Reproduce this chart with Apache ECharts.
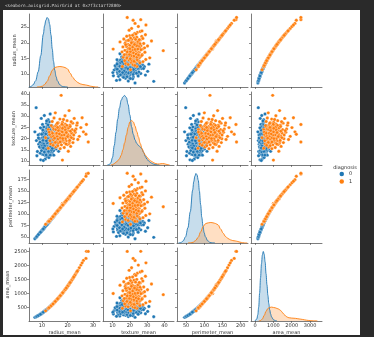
<!DOCTYPE html>
<html><head><meta charset="utf-8">
<script src="https://cdn.jsdelivr.net/npm/echarts/dist/echarts.min.js"></script>
<style>
html,body{margin:0;padding:0;background:#2a2a2a;}
#fig{position:absolute;left:3px;top:10px;width:357px;height:325px;background:#fff;}
#c{position:absolute;left:0;top:0;width:374px;height:337px;}
</style>
</head><body><div id="fig"></div><div id="c"></div><script>
const varNames = ['radius_mean','texture_mean','perimeter_mean','area_mean'];
const hueNames = ['0','1'];
const titleText = '<seaborn.axisgrid.PairGrid at 0x7f3c1a7f2800>';
const legendTitle = 'diagnosis';

// diagnosis 0 (benign)
const radius0 = [12.1,11.4,13.2,10.8,12.7,11.9,13.8,9.8,12.4,11.1,
14.2,10.3,12.9,11.6,13.5,12.2,8.7,14.6,11.3,13.0,
10.6,12.6,15.1,11.8,9.4,13.7,12.3,10.9,14.0,11.5,
12.8,7.8,13.3,10.1,12.0,15.5,11.2,13.9,9.1,12.5,
14.4,10.4,11.7,13.1,8.2,12.9,16.2,11.0,13.6,10.7,
12.2,14.8,9.9,11.9,13.4,12.6,10.2,14.1,11.4,15.8,
12.0,7.2,13.0,10.5,12.4,11.6,14.5,9.6,13.2,12.8,
16.8,11.1,13.6,10.0,12.3,15.2,11.3,8.9,13.9,12.1,
10.8,14.3,11.8,9.3,13.5,12.7,11.0,17.3,10.3,12.5,
14.7,11.5,13.1,8.5,12.0,15.6,10.6,13.7,11.7,12.9,
9.7,14.9,11.2,13.3,10.9,12.6,16.0,11.4,7.7,13.8,
12.2,10.4,14.0,11.9,9.0,13.4,12.3,15.0,10.1,11.6,
13.0,12.7,14.2,10.7,11.3,13.6,12.4,9.5,14.6,11.8,
12.8,10.0,13.2,16.5,11.0,12.1,14.4,8.0,10.5,13.1,
11.5,12.9,10.2,13.4,11.8,12.4,9.8,14.1,11.0,12.6,
13.1,10.6,12.0,14.8,11.3,12.3,9.2,13.7,11.7,12.8,
10.4,13.3,11.9,12.5,15.3,10.9,12.1,13.9,11.4,8.6,
12.7,11.1,14.0,10.7,12.2,13.5,9.9,11.6,12.9,14.5,
11.2,12.5,10.3,13.0,11.8,12.4,15.9,10.8,13.2,11.5,
12.1,9.4,13.6,11.0,12.6,14.3,10.5,12.0,13.8,11.7];
const texture0 = [17.2,15.6,19.8,16.4,21.3,14.1,18.5,20.2,13.2,18.9,
16.7,14.8,24.1,22.5,15.1,19.4,17.5,20.8,12.4,17.9,
19.7,16.2,18.1,20.6,15.9,22.9,11.9,23.4,13.6,17.0,
14.5,19.1,21.7,13.0,25.6,15.3,20.9,19.0,22.0,18.3,
23.8,17.8,13.8,16.0,14.2,27.5,19.6,21.5,12.8,15.2,
22.2,17.3,18.6,16.6,25.0,20.0,26.3,21.1,19.3,16.5,
15.0,23.0,13.4,21.2,28.4,18.0,14.6,16.9,17.6,23.0,
21.4,14.4,20.3,24.5,16.8,24.6,10.9,19.8,15.7,21.0,
18.2,18.8,26.8,13.5,19.2,15.5,17.4,18.4,20.5,12.2,
22.1,23.7,18.7,21.6,19.9,20.1,12.9,16.3,24.9,20.7,
29.0,15.9,16.0,14.0,30.3,17.5,17.0,21.8,33.8,23.5,
14.7,22.7,19.5,12.0,16.3,22.4,20.3,21.9,18.0,19.6,
26.0,11.5,25.3,25.2,23.1,17.1,15.8,10.5,12.6,27.9,
19.1,16.1,31.0,14.3,13.7,24.0,16.9,12.3,10.2,22.7,
18.6,15.8,16.9,20.5,22.8,17.9,14.6,17.7,19.8,13.9,
23.9,22.3,16.5,19.4,15.3,21.6,18.4,14.8,20.4,18.0,
19.2,16.4,24.4,19.6,22.8,14.0,23.3,21.3,17.1,20.3,
25.2,21.1,15.6,17.6,18.8,18.2,21.9,12.7,21.9,24.1,
16.2,14.3,23.8,19.3,15.4,26.1,18.3,20.6,12.6,22.1,
20.1,24.8,21.0,16.7,22.6,20.2,15.8,18.1,25.9,19.0];
const perimeter0 = [78.0,73.6,85.8,69.1,82.0,76.5,89.7,62.7,80.0,71.4,
92.3,65.9,83.3,74.8,87.7,78.7,55.6,94.9,72.9,84.1,
67.8,81.3,98.2,76.1,60.2,89.0,79.3,69.8,91.0,74.2,
82.6,49.6,86.4,64.6,77.4,100.8,72.2,90.3,58.2,80.6,
93.6,66.6,75.5,84.8,52.3,83.5,105.5,70.8,88.2,68.5,
78.5,96.2,63.4,76.7,87.0,81.2,65.3,91.6,73.4,102.7,
77.2,45.8,84.0,67.3,80.2,74.7,94.2,61.4,85.6,82.8,
109.6,71.5,88.4,64.0,79.2,98.9,72.7,56.9,90.1,77.9,
69.3,92.9,76.0,59.5,87.5,81.9,70.9,113.0,66.0,80.5,
95.6,74.0,84.9,54.4,77.5,101.5,67.9,88.9,75.3,83.2,
62.1,96.9,72.0,86.2,69.9,81.4,104.1,73.5,48.9,89.6,
78.6,66.5,90.8,76.6,57.6,86.9,79.1,97.6,64.7,74.9,
84.2,82.1,92.1,68.6,72.8,88.1,80.1,60.8,94.8,76.2,
82.5,64.1,85.7,107.4,70.7,78.1,93.5,51.0,67.2,84.7,
74.1,83.2,65.2,86.8,76.0,80.0,62.8,91.5,70.8,81.3,
84.8,67.9,77.3,96.0,72.8,79.2,58.9,88.9,75.4,82.6,
66.6,86.3,76.7,80.6,99.6,69.9,78.0,90.3,73.5,55.0,
81.9,71.5,90.9,68.5,78.6,87.6,63.4,74.8,83.3,94.1,
72.1,80.5,66.0,84.1,76.1,80.1,103.4,69.2,85.6,74.1,
78.0,60.1,88.3,70.9,81.2,92.8,67.2,77.4,89.6,75.4];
const area0 = [450,401,543,359,497,436,594,288,474,379,
629,327,512,414,569,458,227,665,393,521,
346,489,711,429,265,586,466,366,612,407,
505,182,552,314,444,750,386,603,248,481,
647,333,422,529,202,513,819,373,577,352,
458,683,294,436,560,489,320,620,400,779,
443,155,520,340,474,414,656,276,537,505,
880,379,577,308,466,721,393,238,603,451,
359,638,429,260,569,497,373,934,327,481,
674,407,529,217,444,759,346,586,422,512,
282,693,386,552,366,489,799,401,178,594,
458,333,612,436,243,560,466,702,314,414,
521,497,629,352,393,577,474,271,665,429,
505,308,543,849,373,451,647,192,340,529,
407,512,320,560,429,474,288,620,373,489,
529,346,444,683,393,466,254,586,422,505,
333,552,436,481,731,366,451,603,401,222,
497,379,612,352,458,569,294,414,513,656,
386,481,327,521,429,474,789,359,537,407,
451,265,577,373,489,638,340,444,594,422];

// diagnosis 1 (malignant)
const radius1 = [17.99,20.57,19.69,11.42,20.29,12.45,18.25,13.71,13.0,12.46,
16.0,15.3,19.1,14.5,17.2,21.6,15.8,18.6,16.6,22.3,
14.9,17.6,20.0,16.3,19.5,23.3,15.1,18.1,17.0,13.4,
20.9,16.9,24.6,15.6,18.8,14.2,19.8,17.4,21.2,16.1,
25.2,15.4,18.4,20.5,14.7,17.8,22.0,16.4,19.3,27.4,
15.0,18.0,21.0,13.8,17.1,23.0,16.7,19.9,14.0,18.5,
20.3,15.9,26.2,17.3,19.0,16.2,21.8,14.4,18.9,17.5,
20.7,15.7,24.0,16.8,19.4,13.1,22.6,17.7,15.2,20.1,
28.1,16.5,18.3,21.4,14.8,19.6,17.9,23.6,15.5,18.7,
12.8,20.6,16.9,25.7,19.2,27.2,17.0,22.1,14.6,20.2,
17.4,19.0,15.9,20.4,18.2,16.6,21.5,17.8,14.1,19.7,
16.3,18.6,22.8,15.4,17.1,20.0,16.0,18.9,13.6,17.6,
21.1,15.8,19.4,16.8,18.4,23.8,14.9,17.9,20.8,16.4,
19.1,15.2,18.0,22.4,17.2,16.1,19.5,14.3,18.1,21.0];
const texture1 = [10.38,17.77,21.25,20.38,14.34,15.70,19.98,20.83,21.82,24.04,
23.2,25.6,26.4,19.5,22.8,22.4,18.7,24.9,20.1,19.9,
22.0,17.2,23.6,27.1,19.0,24.3,21.3,21.7,25.4,17.6,
26.0,19.4,21.0,23.9,18.1,25.0,28.0,20.6,16.5,21.8,
24.9,16.2,22.5,20.6,29.2,24.1,26.9,18.0,23.1,26.3,
20.5,27.3,21.2,23.0,15.5,22.8,22.6,17.3,27.6,20.2,
25.1,24.6,23.0,19.0,30.2,16.8,24.0,21.0,23.8,39.3,
18.7,26.3,19.6,23.5,21.4,19.0,29.0,21.0,31.5,22.1,
18.5,20.8,25.8,27.5,17.9,24.4,18.9,26.0,22.3,16.0,
22.9,32.5,24.8,29.3,20.0,21.9,28.7,18.2,24.2,21.5,
23.4,22.0,20.9,24.7,19.3,24.2,20.4,26.4,22.4,25.9,
19.8,21.6,23.5,24.0,18.5,20.9,26.9,25.0,25.8,21.5,
23.3,22.4,17.6,22.1,28.5,27.0,20.2,23.0,19.2,23.6,
23.9,18.3,24.6,21.6,20.3,25.0,22.7,17.0,20.0,25.4];
const perimeter1 = [122.8,132.9,130.0,77.6,135.1,82.6,119.6,90.2,87.5,84.0,
105.6,100.7,126.5,95.2,113.5,143.3,104.1,123.0,109.4,148.0,
98.0,116.2,132.4,107.6,129.0,154.9,99.4,119.6,112.1,87.9,
138.5,111.5,163.8,102.8,124.3,93.3,131.1,114.9,140.6,106.3,
167.8,101.4,121.6,135.8,96.6,117.5,146.0,108.2,127.7,186.9,
98.7,119.0,139.2,90.6,112.8,152.8,110.1,131.7,91.9,122.3,
134.5,104.8,174.7,114.2,125.7,106.9,144.7,94.6,125.0,115.5,
137.2,103.4,159.7,110.8,128.4,85.9,150.1,116.9,100.1,133.1,
188.5,108.9,120.9,142.0,97.3,129.7,118.2,157.0,102.0,123.6,
83.9,136.5,111.4,171.2,127.0,182.1,112.2,146.7,95.9,133.8,
114.8,125.6,104.8,135.1,120.2,109.5,142.6,117.6,92.6,130.4,
107.5,122.9,151.4,101.5,112.9,132.3,105.5,124.9,89.2,116.2,
140.0,104.2,128.3,110.9,121.6,158.4,98.1,118.3,137.9,108.2,
126.4,100.2,119.0,148.7,113.6,106.3,129.0,94.0,119.6,139.3];
const area1 = [1001,1326,1203,386,1297,477,1040,578,520,476,
801,728,1148,651,928,1475,781,1088,864,1573,
690,973,1262,833,1198,1720,710,1030,908,553,
1380,897,1918,763,1112,625,1236,951,1420,814,
2012,743,1065,1325,670,996,1530,845,1173,2501,
700,1019,1392,588,919,1676,876,1249,606,1076,
1300,791,2175,940,1136,824,1503,642,1124,962,
1352,772,1826,887,1185,528,1617,985,721,1275,
2499,856,1053,1447,680,1210,1007,1766,752,1100,
502,1338,897,2093,1161,2250,908,1545,660,1287,
951,1136,791,1312,1042,864,1461,996,615,1223,
833,1088,1646,743,919,1262,801,1124,569,973,
1406,781,1185,887,1065,1796,690,1007,1366,845,
1148,721,1019,1588,928,814,1198,632,1030,1392];

// tick labels
const xTickVals = [[10,20,30],[10,20,30,40],[50,100,150,200],[0,1000,2000,3000]];
const yTickVals = [[10,15,20,25],[10,15,20,25,30,35,40],[50,75,100,125,150,175],[500,1000,1500,2000,2500]];
const colRange = [[4.9,32.7],[4.5,45.5],[25,220],[-220,3650]];
const rowRange = [[5.9,29.2],[8.2,40.8],[36.6,195.7],[25,2620]];

// diagonal KDE curves (relative density)
const kdeRadiusX0 = [5.0,5.5,6.5,7.5,8.5,9.5,10.5,11.0,11.5,12.0,12.5,13.0,13.5,14.0,14.5,15.0,15.5,16.0,17.0,18.0,19.0,20.0];
const kdeRadiusY0 = [0,0.005,0.03,0.09,0.22,0.45,0.76,0.88,0.96,1.0,0.98,0.9,0.75,0.55,0.37,0.24,0.15,0.09,0.03,0.008,0.002,0];
const kdeRadiusX1 = [8,9,10,11,12,13,14,15,16,17,18,19,20,21,22,23,24,25,26,27,28,29,30,31,32];
const kdeRadiusY1 = [0,0.003,0.01,0.035,0.08,0.16,0.24,0.28,0.29,0.295,0.29,0.28,0.26,0.2,0.14,0.095,0.065,0.045,0.035,0.03,0.022,0.012,0.005,0.001,0];
const kdeTextureX0 = [7,8,9,10,11,12,13,14,15,16,17,18,19,20,21,22,23,24,25,26,27,28,29,30,31,32,33,34,35,36,37];
const kdeTextureY0 = [0,0.005,0.03,0.11,0.28,0.47,0.66,0.82,0.93,0.98,1.0,0.97,0.87,0.72,0.55,0.44,0.36,0.31,0.28,0.26,0.23,0.18,0.12,0.08,0.055,0.035,0.02,0.01,0.005,0.002,0];
const kdeTextureX1 = [9,10,11,12,13,14,15,16,17,18,19,20,21,22,23,24,25,26,27,28,29,30,31,32,33,34,35,36,37,38,39,40,41,42,43];
const kdeTextureY1 = [0,0.005,0.02,0.04,0.06,0.09,0.14,0.22,0.32,0.43,0.54,0.62,0.64,0.62,0.56,0.48,0.4,0.31,0.24,0.18,0.14,0.11,0.08,0.06,0.045,0.03,0.02,0.015,0.015,0.018,0.02,0.018,0.01,0.004,0];
const kdePerimeterX0 = [29,35.5,42,48.5,55,61.5,68,71,74,77,80,83.5,86.5,90,93,96.5,99.5,103,109.5,116,122.5,129];
const kdePerimeterY0 = [0,0.005,0.03,0.09,0.22,0.45,0.76,0.88,0.96,1.0,0.98,0.9,0.75,0.55,0.37,0.24,0.15,0.09,0.03,0.008,0.002,0];
const kdePerimeterX1 = [55,62,69,76,83,90,97,104,111,118,124,131,138,145,152,158,165,172,178,185,192,198,205,211,218];
const kdePerimeterY1 = [0,0.003,0.01,0.035,0.08,0.16,0.24,0.28,0.29,0.295,0.29,0.28,0.26,0.2,0.14,0.095,0.065,0.045,0.035,0.03,0.022,0.012,0.005,0.001,0];
const kdeAreaX0 = [0,100,150,200,250,300,350,400,450,500,550,600,650,700,750,800,850,900,1000,1100,1200];
const kdeAreaY0 = [0,0.03,0.09,0.2,0.4,0.62,0.82,0.95,1.0,0.96,0.85,0.68,0.52,0.37,0.25,0.16,0.1,0.06,0.02,0.005,0];
const kdeAreaX1 = [200,300,400,500,600,700,800,900,1000,1100,1200,1300,1400,1500,1600,1700,1800,1900,2000,2200,2400,2600,2800,3000,3200,3400];
const kdeAreaY1 = [0,0.005,0.03,0.08,0.14,0.18,0.195,0.2,0.195,0.19,0.18,0.17,0.15,0.12,0.09,0.065,0.05,0.045,0.042,0.038,0.03,0.022,0.012,0.005,0.002,0];

// ---- assembly ----
const groups = [[radius0,texture0,perimeter0,area0],[radius1,texture1,perimeter1,area1]];
const kdeX = [[kdeRadiusX0,kdeTextureX0,kdePerimeterX0,kdeAreaX0],[kdeRadiusX1,kdeTextureX1,kdePerimeterX1,kdeAreaX1]];
const kdeY = [[kdeRadiusY0,kdeTextureY0,kdePerimeterY0,kdeAreaY0],[kdeRadiusY1,kdeTextureY1,kdePerimeterY1,kdeAreaY1]];
const colors = ['#1f77b4','#ff7f0e'];
const colLeft = [29,103,177,251], W = 71;
const rowTop = [14,92,170,248], H = 73;
const yNameGap = [12,12.5,15,18];
const axisColor = '#444', labelColor = '#333';
const FONT = 'DejaVu Sans';
const plain = v => String(v);

const grid=[], xAxis=[], yAxis=[], series=[];
for (let i=0;i<4;i++) for (let j=0;j<4;j++) {
  const g=i*4+j;
  grid.push({left:colLeft[j], top:rowTop[i], width:W, height:H});
  xAxis.push({type:'value', gridIndex:g, min:colRange[j][0], max:colRange[j][1],
    axisLine:{show:true,onZero:false,lineStyle:{color:axisColor,width:0.7}},
    axisTick:{show:true,length:2,customValues:xTickVals[j],lineStyle:{color:axisColor,width:0.6}},
    axisLabel:{show:i===3,customValues:xTickVals[j],formatter:plain,fontSize:5,color:labelColor,margin:2.5,fontFamily:FONT},
    splitLine:{show:false},
    name:i===3?varNames[j]:'', nameLocation:'middle', nameGap:9,
    nameTextStyle:{fontSize:5,color:labelColor,fontFamily:FONT}});
  yAxis.push({type:'value', gridIndex:g, min:rowRange[i][0], max:rowRange[i][1],
    axisLine:{show:true,onZero:false,lineStyle:{color:axisColor,width:0.7}},
    axisTick:{show:true,length:2,customValues:yTickVals[i],lineStyle:{color:axisColor,width:0.6}},
    axisLabel:{show:j===0,customValues:yTickVals[i],formatter:plain,fontSize:5,color:labelColor,margin:2,fontFamily:FONT},
    splitLine:{show:false},
    name:j===0?varNames[i]:'', nameLocation:'middle', nameGap:yNameGap[i],
    nameTextStyle:{fontSize:5,color:labelColor,fontFamily:FONT}});
}
for (let d=0; d<4; d++) {
  yAxis.push({type:'value', gridIndex:d*5, min:0, max:1.05, show:false, splitLine:{show:false}});
}
for (let i=0;i<4;i++) for (let j=0;j<4;j++) {
  const g=i*4+j;
  for (let h=0; h<2; h++) {
    if (i===j) {
      series.push({type:'line', name:hueNames[h], xAxisIndex:g, yAxisIndex:16+i,
        data:kdeX[h][i].map((x,k)=>[x,kdeY[h][i][k]]),
        smooth:0.35, smoothMonotone:'x', symbol:'none', clip:true,
        itemStyle:{color:colors[h]},
        lineStyle:{color:colors[h],width:0.9},
        areaStyle:{color:colors[h],opacity:0.25}});
    } else {
      const G=groups[h];
      series.push({type:'scatter', name:hueNames[h], xAxisIndex:g, yAxisIndex:g,
        data:G[j].map((v,k)=>[v,G[i][k]]),
        symbolSize:3.4,
        itemStyle:{color:colors[h],borderColor:'#fff',borderWidth:0.3,opacity:1}});
    }
  }
}

const chart = echarts.init(document.getElementById('c'), null, {renderer:'canvas'});
chart.setOption({
  animation:false,
  backgroundColor:'transparent',
  grid, xAxis, yAxis, series,
  legend:{data:hueNames, orient:'vertical', left:339.5, top:171.5, itemWidth:4.5, itemHeight:4.5, itemGap:2.5,
    icon:'circle', padding:0, selectedMode:false,
    textStyle:{fontSize:5, lineHeight:5, color:labelColor, fontFamily:FONT}},
  graphic:[
    {type:'text', left:5, top:3.5, style:{text:titleText, fill:'#cfcfcf', font:'4.3px "DejaVu Sans Mono"'}},
    {type:'text', x:345, y:167.3, style:{text:legendTitle, textAlign:'center', textVerticalAlign:'middle', fill:labelColor, font:'5px "DejaVu Sans"'}}
  ]
});
</script></body></html>
